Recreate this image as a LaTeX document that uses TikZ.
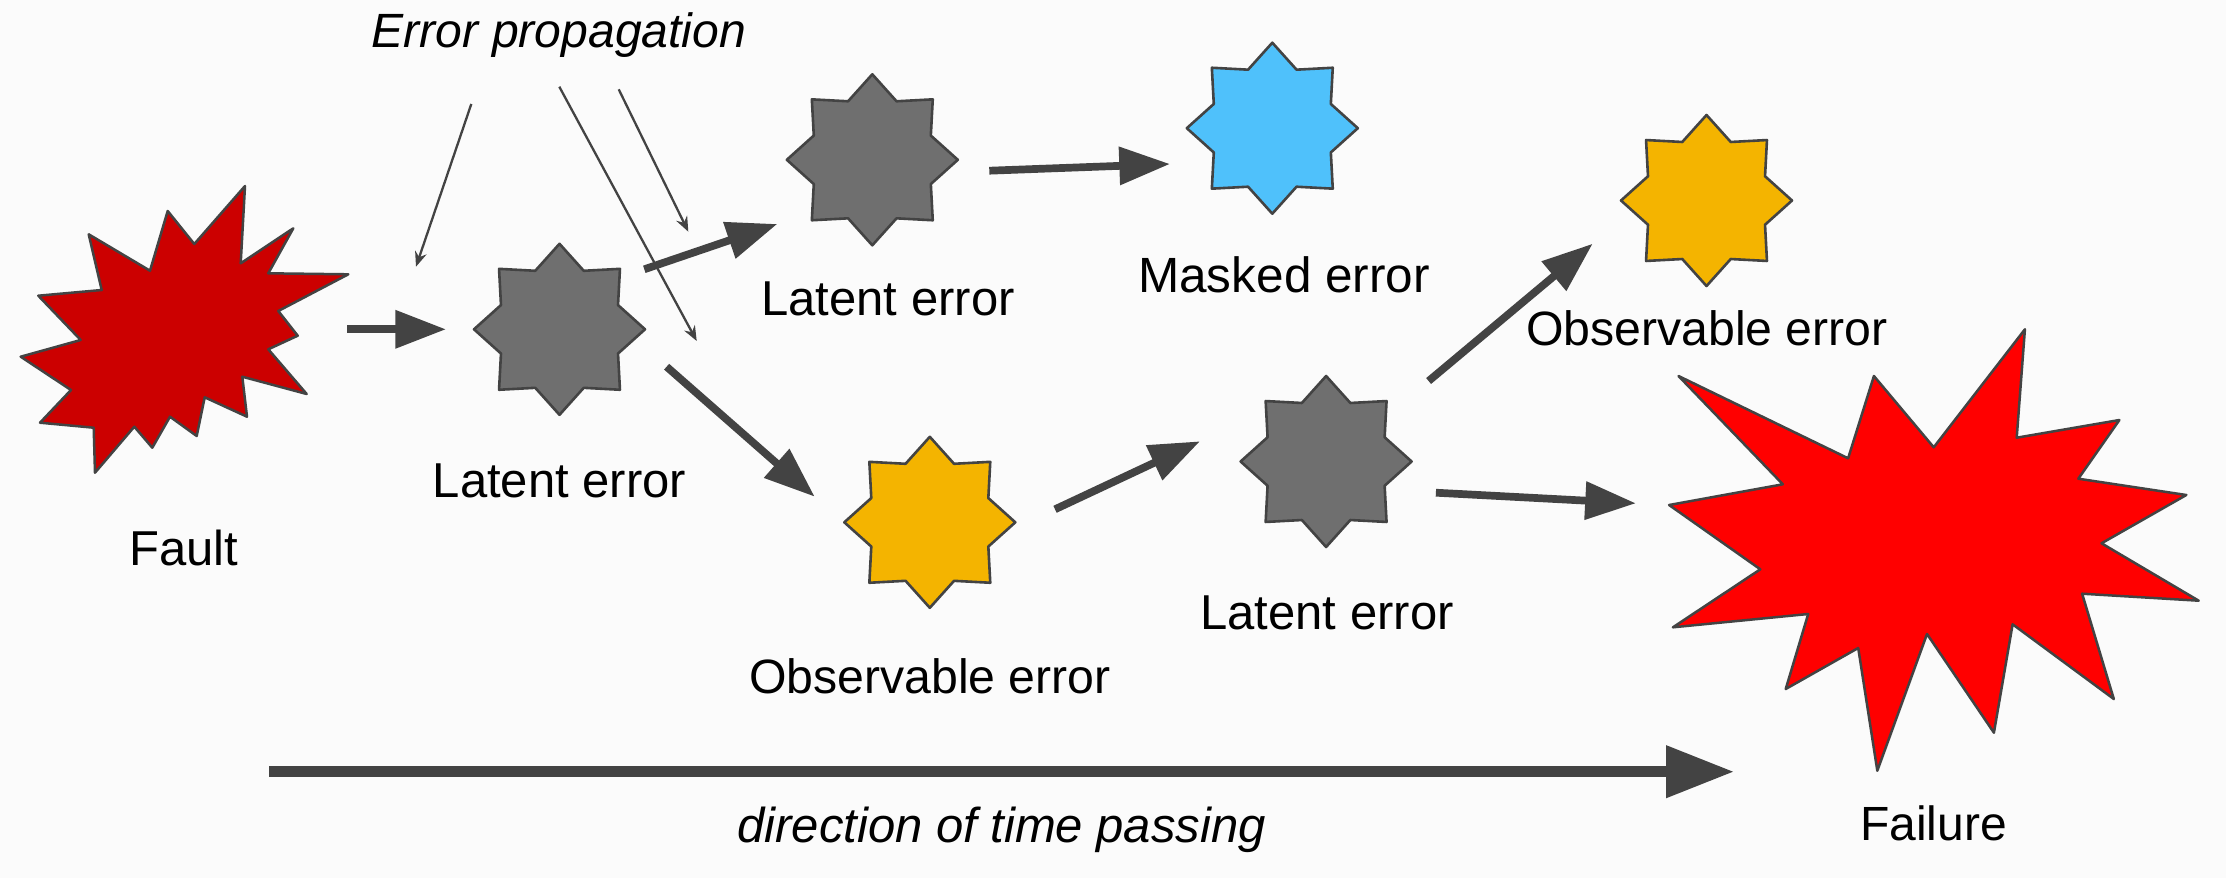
\documentclass[tikz,border=0pt]{standalone}
\usepackage{fontspec}
\setmainfont{Liberation Sans}
\usetikzlibrary{arrows.meta,shapes.geometric}
\definecolor{ink}{HTML}{434343}
\definecolor{bgc}{HTML}{FBFBFB}
\definecolor{grayfill}{HTML}{6F6F6F}
\definecolor{orangefill}{HTML}{F4B400}
\definecolor{bluefill}{HTML}{4FC1FB}
\definecolor{faultred}{HTML}{CC0000}
\definecolor{failred}{HTML}{FF0000}
\tikzset{
  burst/.style={draw=ink,line width=2.5pt,line join=round},
  errstar/.style={star,star points=8,star point ratio=1.35,minimum size=171pt,inner sep=0pt,outer sep=0pt,draw=ink,line width=2.6pt,line join=round},
  lbl/.style={anchor=base,inner sep=0pt,text=black,font=\fontsize{#1}{56}\selectfont},
  lbl/.default=49,
  ilbl/.style={anchor=base,inner sep=0pt,text=black,font=\fontsize{#1}{56}\selectfont\itshape},
  ilbl/.default=49,
  flow/.style={draw=ink,line width=7.7pt,-{Triangle[length=50.7pt,width=36.7pt]},color=ink},
  timeflow/.style={draw=ink,line width=10.7pt,-{Triangle[length=68pt,width=50pt]},color=ink},
  thinflow/.style={draw=ink,line width=2.3pt,-{Stealth[length=15pt,width=12pt,inset=5pt]},color=ink}
}
\begin{document}
\begin{tikzpicture}[x=1pt,y=-1pt]
\useasboundingbox (0,0) rectangle (2226,878);
\fill[bgc] (0,0) rectangle (2226,878);

% bursts
\draw[burst,fill=faultred] (245,186)--(240.7,263.3)--(293.3,228.3)--(268.3,273.3)--(348.3,274.3)--(278.3,311)--(297.7,335.7)--(268.3,349.3)--(306.7,394)--(242.3,376.7)--(247,416.7)--(204.7,397.3)--(196.7,436)--(170,416.7)--(152.3,447.7)--(134.3,426.7)--(95,472.7)--(93.7,427.7)--(40,422.7)--(71,390)--(20.7,356.7)--(80.7,340)--(38.3,295.7)--(101.7,290)--(88.7,234.3)--(150,270.7)--(167.7,211)--(194.3,244)--cycle;
\draw[burst,fill=failred] (2024.9,329.3)--(2016.7,437.7)--(2119.4,420)--(2078.3,478.7)--(2186.3,495)--(2101.5,543.3)--(2198.7,600.7)--(2082.1,593.7)--(2113.8,699)--(2012.6,624.3)--(1993.9,732.7)--(1927,634)--(1877.3,770.7)--(1858.2,648)--(1785.7,689)--(1808.2,614)--(1672.9,627.3)--(1760.3,569.3)--(1669.1,505)--(1782.8,484.3)--(1678.5,376)--(1848.1,458.3)--(1873.9,376)--(1933.7,447.3)--cycle;

% error stars
\node[errstar,fill=grayfill] (g1) at (559.5,329.3) {};
\node[errstar,fill=grayfill] (g2) at (872.3,159.8) {};
\node[errstar,fill=bluefill] (blue) at (1272.3,128.2) {};
\node[errstar,fill=orangefill] (o1) at (929.8,522.3) {};
\node[errstar,fill=orangefill] (o2) at (1706.5,200.5) {};
\node[errstar,fill=grayfill] (g3) at (1326.1,461.5) {};

% labels
\node[ilbl=48.1] (ep) at (559,47) {Error propagation};
\node[lbl] (l1) at (559.5,497) {Latent error};
\node[lbl] (fl) at (184,565) {Fault};
\node[lbl] (l2) at (888,315) {Latent error};
\node[lbl=49.5] (me) at (1284,292) {Masked error};
\node[lbl=48.2] (ob1) at (930,693) {Observable error};
\node[lbl] (l3) at (1327,629) {Latent error};
\node[lbl=48.2] (ob2) at (1707,345) {Observable error};
\node[lbl=48] (fa) at (1933.5,840) {Failure};
\node[ilbl] (dt) at (1001.5,842) {direction of time passing};

% connector ends
\coordinate (a1s) at (347.3,329.3); \coordinate (a1t) at (446,329.3);
\coordinate (a2s) at (644.3,269.3); \coordinate (a2t) at (777.3,224);
\coordinate (a3s) at (666.6,366.7); \coordinate (a3t) at (814.7,496.7);
\coordinate (a4s) at (1055,509.3); \coordinate (a4t) at (1200,441.3);
\coordinate (a5s) at (989.3,170.7); \coordinate (a5t) at (1170,164);
\coordinate (a6s) at (1428.6,381); \coordinate (a6t) at (1592.7,243.7);
\coordinate (a7s) at (1435.9,492.7); \coordinate (a7t) at (1635.9,503.3);
\coordinate (a8s) at (269,771.7); \coordinate (a8t) at (1734,771.7);
\coordinate (t1s) at (471.3,104); \coordinate (t1t) at (416,266.7);
\coordinate (t2s) at (559.3,86.7); \coordinate (t2t) at (696.7,341);
\coordinate (t3s) at (618.7,89.3); \coordinate (t3t) at (688.3,231.7);

% thin arrows
\draw[thinflow] (t1s) -- (t1t);
\draw[thinflow] (t2s) -- (t2t);
\draw[thinflow] (t3s) -- (t3t);

% flow arrows
\draw[flow] (a1s) -- (a1t);
\draw[flow] (a2s) -- (a2t);
\draw[flow] (a3s) -- (a3t);
\draw[flow] (a4s) -- (a4t);
\draw[flow] (a5s) -- (a5t);
\draw[flow] (a6s) -- (a6t);
\draw[flow] (a7s) -- (a7t);
\draw[timeflow] (a8s) -- (a8t);
\end{tikzpicture}
\end{document}
